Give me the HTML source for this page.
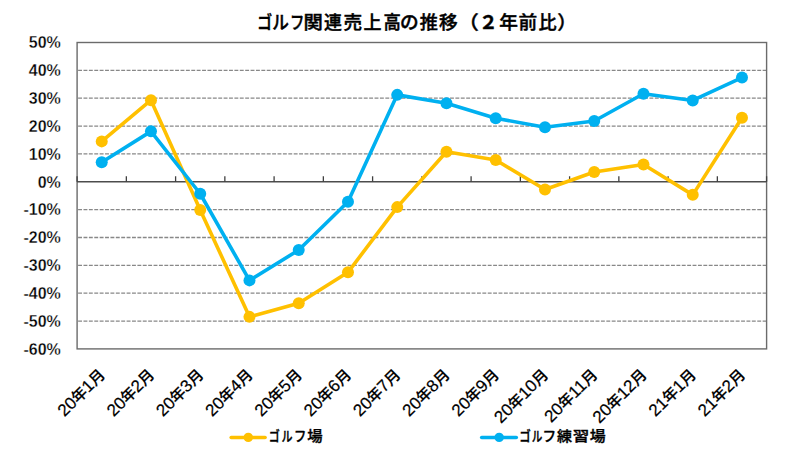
<!DOCTYPE html>
<html><head><meta charset="utf-8"><style>
html,body{margin:0;padding:0;background:#fff;}
svg{display:block;}
text{font-family:"Liberation Sans","Noto Sans CJK JP",sans-serif;fill:#000;}
.yl{font-size:16px;font-weight:bold;stroke:#fff;stroke-width:0.3px;}
.xl{font-size:15.2px;font-weight:500;stroke:#000;stroke-width:0.2px;}
.dg{font-size:17px;}
.lg{font-size:14px;font-weight:500;stroke:#000;stroke-width:0.35px;}
.tt{font-size:18.67px;font-weight:500;stroke:#000;stroke-width:0.45px;}
</style></head><body>
<svg width="800" height="450" viewBox="0 0 800 450">
<rect width="800" height="450" fill="#fff"/>
<line x1="77.1" y1="70.35" x2="766.6" y2="70.35" stroke="#888" stroke-width="1.3" stroke-dasharray="3.9 1.49" stroke-dashoffset="-1.0"/>
<line x1="77.1" y1="98.21" x2="766.6" y2="98.21" stroke="#888" stroke-width="1.3" stroke-dasharray="3.9 1.49" stroke-dashoffset="-1.0"/>
<line x1="77.1" y1="126.06" x2="766.6" y2="126.06" stroke="#888" stroke-width="1.3" stroke-dasharray="3.9 1.49" stroke-dashoffset="-1.0"/>
<line x1="77.1" y1="153.92" x2="766.6" y2="153.92" stroke="#888" stroke-width="1.3" stroke-dasharray="3.9 1.49" stroke-dashoffset="-1.0"/>
<line x1="77.1" y1="209.63" x2="766.6" y2="209.63" stroke="#888" stroke-width="1.3" stroke-dasharray="3.9 1.49" stroke-dashoffset="-1.0"/>
<line x1="77.1" y1="237.48" x2="766.6" y2="237.48" stroke="#888" stroke-width="1.3" stroke-dasharray="3.9 1.49" stroke-dashoffset="-1.0"/>
<line x1="77.1" y1="265.34" x2="766.6" y2="265.34" stroke="#888" stroke-width="1.3" stroke-dasharray="3.9 1.49" stroke-dashoffset="-1.0"/>
<line x1="77.1" y1="293.19" x2="766.6" y2="293.19" stroke="#888" stroke-width="1.3" stroke-dasharray="3.9 1.49" stroke-dashoffset="-1.0"/>
<line x1="77.1" y1="321.05" x2="766.6" y2="321.05" stroke="#888" stroke-width="1.3" stroke-dasharray="3.9 1.49" stroke-dashoffset="-1.0"/>
<rect x="77.1" y="42.5" width="689.5" height="306.4" fill="none" stroke="#6b6b6b" stroke-width="1.4"/>
<line x1="77.1" y1="181.77" x2="766.6" y2="181.77" stroke="#4d4d4d" stroke-width="1.6"/>
<line x1="77.10" y1="176.27" x2="77.10" y2="181.77" stroke="#404040" stroke-width="1.3"/>
<line x1="126.35" y1="176.27" x2="126.35" y2="181.77" stroke="#404040" stroke-width="1.3"/>
<line x1="175.60" y1="176.27" x2="175.60" y2="181.77" stroke="#404040" stroke-width="1.3"/>
<line x1="224.85" y1="176.27" x2="224.85" y2="181.77" stroke="#404040" stroke-width="1.3"/>
<line x1="274.10" y1="176.27" x2="274.10" y2="181.77" stroke="#404040" stroke-width="1.3"/>
<line x1="323.35" y1="176.27" x2="323.35" y2="181.77" stroke="#404040" stroke-width="1.3"/>
<line x1="372.60" y1="176.27" x2="372.60" y2="181.77" stroke="#404040" stroke-width="1.3"/>
<line x1="421.85" y1="176.27" x2="421.85" y2="181.77" stroke="#404040" stroke-width="1.3"/>
<line x1="471.10" y1="176.27" x2="471.10" y2="181.77" stroke="#404040" stroke-width="1.3"/>
<line x1="520.35" y1="176.27" x2="520.35" y2="181.77" stroke="#404040" stroke-width="1.3"/>
<line x1="569.60" y1="176.27" x2="569.60" y2="181.77" stroke="#404040" stroke-width="1.3"/>
<line x1="618.85" y1="176.27" x2="618.85" y2="181.77" stroke="#404040" stroke-width="1.3"/>
<line x1="668.10" y1="176.27" x2="668.10" y2="181.77" stroke="#404040" stroke-width="1.3"/>
<line x1="717.35" y1="176.27" x2="717.35" y2="181.77" stroke="#404040" stroke-width="1.3"/>
<line x1="766.60" y1="176.27" x2="766.60" y2="181.77" stroke="#404040" stroke-width="1.3"/>
<text transform="translate(60.8,48.30) scale(1,1.07)" class="yl" text-anchor="end">50%</text>
<text transform="translate(60.8,76.15) scale(1,1.07)" class="yl" text-anchor="end">40%</text>
<text transform="translate(60.8,104.01) scale(1,1.07)" class="yl" text-anchor="end">30%</text>
<text transform="translate(60.8,131.86) scale(1,1.07)" class="yl" text-anchor="end">20%</text>
<text transform="translate(60.8,159.72) scale(1,1.07)" class="yl" text-anchor="end">10%</text>
<text transform="translate(60.8,187.57) scale(1,1.07)" class="yl" text-anchor="end">0%</text>
<text transform="translate(60.8,215.43) scale(1,1.07)" class="yl" text-anchor="end">-10%</text>
<text transform="translate(60.8,243.28) scale(1,1.07)" class="yl" text-anchor="end">-20%</text>
<text transform="translate(60.8,271.14) scale(1,1.07)" class="yl" text-anchor="end">-30%</text>
<text transform="translate(60.8,298.99) scale(1,1.07)" class="yl" text-anchor="end">-40%</text>
<text transform="translate(60.8,326.85) scale(1,1.07)" class="yl" text-anchor="end">-50%</text>
<text transform="translate(60.8,354.70) scale(1,1.07)" class="yl" text-anchor="end">-60%</text>
<polyline points="101.72,141.38 150.97,100.16 200.22,209.91 249.47,316.87 298.73,303.22 347.98,272.30 397.23,207.12 446.48,151.69 495.73,160.05 544.98,189.57 594.23,172.02 643.48,164.50 692.73,194.86 741.98,117.71" fill="none" stroke="#FFC000" stroke-width="3.6" stroke-linejoin="round" stroke-linecap="round"/><circle cx="101.72" cy="141.38" r="6.0" fill="#FFC000"/><circle cx="150.97" cy="100.16" r="6.0" fill="#FFC000"/><circle cx="200.22" cy="209.91" r="6.0" fill="#FFC000"/><circle cx="249.47" cy="316.87" r="6.0" fill="#FFC000"/><circle cx="298.73" cy="303.22" r="6.0" fill="#FFC000"/><circle cx="347.98" cy="272.30" r="6.0" fill="#FFC000"/><circle cx="397.23" cy="207.12" r="6.0" fill="#FFC000"/><circle cx="446.48" cy="151.69" r="6.0" fill="#FFC000"/><circle cx="495.73" cy="160.05" r="6.0" fill="#FFC000"/><circle cx="544.98" cy="189.57" r="6.0" fill="#FFC000"/><circle cx="594.23" cy="172.02" r="6.0" fill="#FFC000"/><circle cx="643.48" cy="164.50" r="6.0" fill="#FFC000"/><circle cx="692.73" cy="194.86" r="6.0" fill="#FFC000"/><circle cx="741.98" cy="117.71" r="6.0" fill="#FFC000"/>
<polyline points="101.72,162.27 150.97,131.36 200.22,193.75 249.47,280.38 298.73,250.02 347.98,201.83 397.23,94.87 446.48,103.22 495.73,118.26 544.98,127.18 594.23,121.05 643.48,93.75 692.73,100.44 741.98,77.60" fill="none" stroke="#00B0F0" stroke-width="3.6" stroke-linejoin="round" stroke-linecap="round"/><circle cx="101.72" cy="162.27" r="6.0" fill="#00B0F0"/><circle cx="150.97" cy="131.36" r="6.0" fill="#00B0F0"/><circle cx="200.22" cy="193.75" r="6.0" fill="#00B0F0"/><circle cx="249.47" cy="280.38" r="6.0" fill="#00B0F0"/><circle cx="298.73" cy="250.02" r="6.0" fill="#00B0F0"/><circle cx="347.98" cy="201.83" r="6.0" fill="#00B0F0"/><circle cx="397.23" cy="94.87" r="6.0" fill="#00B0F0"/><circle cx="446.48" cy="103.22" r="6.0" fill="#00B0F0"/><circle cx="495.73" cy="118.26" r="6.0" fill="#00B0F0"/><circle cx="544.98" cy="127.18" r="6.0" fill="#00B0F0"/><circle cx="594.23" cy="121.05" r="6.0" fill="#00B0F0"/><circle cx="643.48" cy="93.75" r="6.0" fill="#00B0F0"/><circle cx="692.73" cy="100.44" r="6.0" fill="#00B0F0"/><circle cx="741.98" cy="77.60" r="6.0" fill="#00B0F0"/>
<text class="xl" text-anchor="end" transform="translate(106.02,375.8) rotate(-45)"><tspan class="dg">20</tspan>年<tspan class="dg">1</tspan>月</text>
<text class="xl" text-anchor="end" transform="translate(155.28,375.8) rotate(-45)"><tspan class="dg">20</tspan>年<tspan class="dg">2</tspan>月</text>
<text class="xl" text-anchor="end" transform="translate(204.53,375.8) rotate(-45)"><tspan class="dg">20</tspan>年<tspan class="dg">3</tspan>月</text>
<text class="xl" text-anchor="end" transform="translate(253.78,375.8) rotate(-45)"><tspan class="dg">20</tspan>年<tspan class="dg">4</tspan>月</text>
<text class="xl" text-anchor="end" transform="translate(303.03,375.8) rotate(-45)"><tspan class="dg">20</tspan>年<tspan class="dg">5</tspan>月</text>
<text class="xl" text-anchor="end" transform="translate(352.28,375.8) rotate(-45)"><tspan class="dg">20</tspan>年<tspan class="dg">6</tspan>月</text>
<text class="xl" text-anchor="end" transform="translate(401.53,375.8) rotate(-45)"><tspan class="dg">20</tspan>年<tspan class="dg">7</tspan>月</text>
<text class="xl" text-anchor="end" transform="translate(450.78,375.8) rotate(-45)"><tspan class="dg">20</tspan>年<tspan class="dg">8</tspan>月</text>
<text class="xl" text-anchor="end" transform="translate(500.03,375.8) rotate(-45)"><tspan class="dg">20</tspan>年<tspan class="dg">9</tspan>月</text>
<text class="xl" text-anchor="end" transform="translate(549.27,375.8) rotate(-45)"><tspan class="dg">20</tspan>年<tspan class="dg">10</tspan>月</text>
<text class="xl" text-anchor="end" transform="translate(598.52,375.8) rotate(-45)"><tspan class="dg">20</tspan>年<tspan class="dg">11</tspan>月</text>
<text class="xl" text-anchor="end" transform="translate(647.77,375.8) rotate(-45)"><tspan class="dg">20</tspan>年<tspan class="dg">12</tspan>月</text>
<text class="xl" text-anchor="end" transform="translate(697.02,375.8) rotate(-45)"><tspan class="dg">21</tspan>年<tspan class="dg">1</tspan>月</text>
<text class="xl" text-anchor="end" transform="translate(746.27,375.8) rotate(-45)"><tspan class="dg">21</tspan>年<tspan class="dg">2</tspan>月</text>
<line x1="231.2" y1="437.5" x2="265.1" y2="437.5" stroke="#FFC000" stroke-width="3.6" stroke-linecap="round"/>
<circle cx="248.3" cy="437.4" r="4.7" fill="#FFC000"/>
<line x1="481.7" y1="437.5" x2="516.3" y2="437.5" stroke="#00B0F0" stroke-width="3.6" stroke-linecap="round"/>
<circle cx="499.2" cy="437.4" r="4.7" fill="#00B0F0"/>
<text x="256.99" y="28.5" class="tt" textLength="15.27" lengthAdjust="spacingAndGlyphs">ゴ</text><text x="272.26" y="28.5" class="tt" textLength="16.67" lengthAdjust="spacingAndGlyphs">ル</text><text x="290.12" y="28.5" class="tt" textLength="14.37" lengthAdjust="spacingAndGlyphs">フ</text><text x="303.41" y="28.5" class="tt" textLength="19.34" lengthAdjust="spacingAndGlyphs">関</text><text x="324.03" y="28.5" class="tt" textLength="17.95" lengthAdjust="spacingAndGlyphs">連</text><text x="343.60" y="28.5" class="tt">売</text><text x="363.40" y="28.5" class="tt" textLength="18.00" lengthAdjust="spacingAndGlyphs">上</text><text x="383.61" y="28.5" class="tt" textLength="17.37" lengthAdjust="spacingAndGlyphs">高</text><text x="400.09" y="28.5" class="tt">の</text><text x="419.85" y="28.5" class="tt" textLength="18.13" lengthAdjust="spacingAndGlyphs">推</text><text x="439.03" y="28.5" class="tt">移</text><text x="457.66" y="28.5" class="tt" textLength="21.09" lengthAdjust="spacingAndGlyphs">（</text><text x="478.93" y="28.5" class="tt" style="font-weight:bold">２</text><text x="499.21" y="28.5" class="tt">年</text><text x="518.58" y="28.5" class="tt">前</text><text x="538.42" y="28.5" class="tt" textLength="18.13" lengthAdjust="spacingAndGlyphs">比</text><text x="557.32" y="28.5" class="tt" textLength="19.64" lengthAdjust="spacingAndGlyphs">）</text>
<text x="268.82" y="441.4" class="lg" textLength="11.03" lengthAdjust="spacingAndGlyphs">ゴ</text><text x="281.51" y="441.4" class="lg" textLength="11.00" lengthAdjust="spacingAndGlyphs">ル</text><text x="294.00" y="441.4" class="lg" textLength="12.34" lengthAdjust="spacingAndGlyphs">フ</text><text x="307.32" y="441.4" class="lg" textLength="15.36" lengthAdjust="spacingAndGlyphs">場</text>
<text x="519.16" y="441.4" class="lg" textLength="11.52" lengthAdjust="spacingAndGlyphs">ゴ</text><text x="531.84" y="441.4" class="lg" textLength="10.56" lengthAdjust="spacingAndGlyphs">ル</text><text x="542.52" y="441.4" class="lg" textLength="13.69" lengthAdjust="spacingAndGlyphs">フ</text><text x="557.13" y="441.4" class="lg" textLength="14.95" lengthAdjust="spacingAndGlyphs">練</text><text x="572.68" y="441.4" class="lg" textLength="16.46" lengthAdjust="spacingAndGlyphs">習</text><text x="589.70" y="441.4" class="lg" textLength="15.89" lengthAdjust="spacingAndGlyphs">場</text>
</svg>
</body></html>
